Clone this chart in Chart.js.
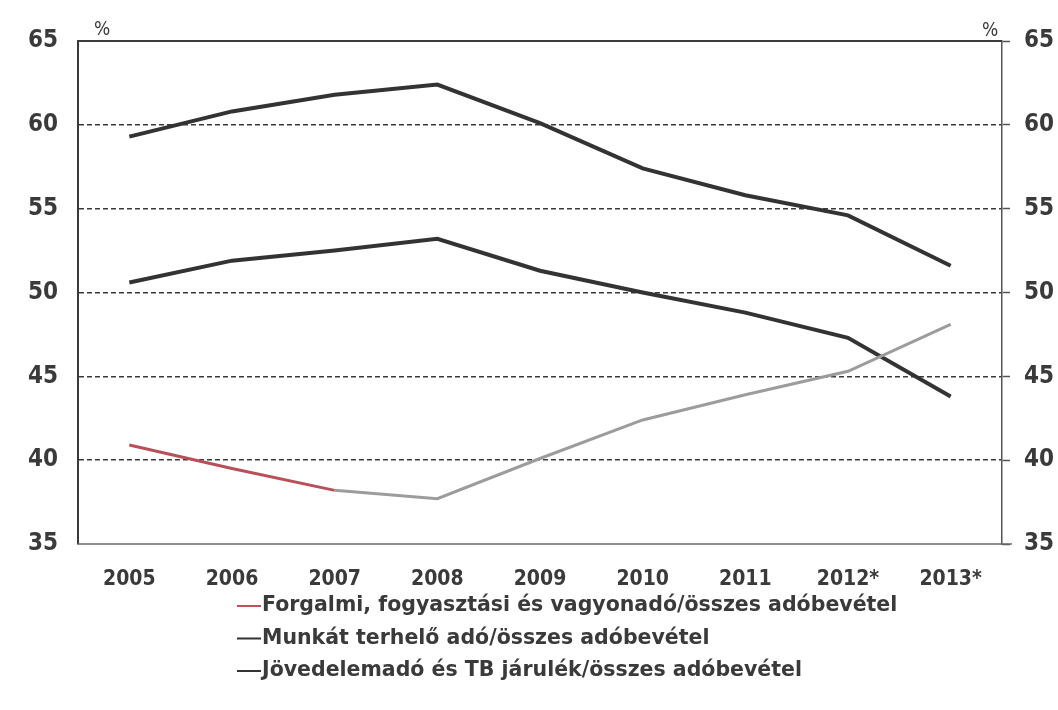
<!DOCTYPE html>
<html>
<head>
<meta charset="utf-8">
<script src="https://cdn.jsdelivr.net/npm/chart.js"></script>
<style>
  html, body { margin: 0; padding: 0; background: #fff; }
  #wrap { width: 1058px; height: 710px; position: relative; }
</style>
</head>
<body>
<div id="wrap"><canvas id="chart" width="1058" height="710"></canvas></div>
<script>
const years = ['2005', '2006', '2007', '2008', '2009', '2010', '2011', '2012*', '2013*'];
const forgalmi = [40.9, 39.5, 38.2, 37.7, 40.1, 42.4, 43.9, 45.3, 48.1];
const munkat = [59.3, 60.8, 61.8, 62.4, 60.1, 57.4, 55.8, 54.6, 51.6];
const jovedelem = [50.6, 51.9, 52.5, 53.2, 51.3, 50.0, 48.8, 47.3, 43.8];
const yTicks = [35, 40, 45, 50, 55, 60, 65];

const labelFont = { family: '"DejaVu Sans Condensed", "DejaVu Sans", sans-serif', size: 21, weight: 'bold' };
const textColor = '#3a3a3a';

// frame lines, % marks and the stacked legend
const extras = {
    id: 'extras',
    afterDraw(chart) {
        const { ctx, chartArea: a } = chart;
        ctx.save();
        ctx.strokeStyle = '#3c3c3c';
        ctx.lineWidth = 2;
        ctx.beginPath();
        ctx.moveTo(a.left, a.top);
        ctx.lineTo(a.right, a.top);
        ctx.stroke();
        ctx.strokeStyle = '#6a6a6a';
        ctx.lineWidth = 1.5;
        ctx.beginPath();
        ctx.moveTo(a.left, a.bottom);
        ctx.lineTo(a.right + 10, a.bottom);
        ctx.stroke();

        ctx.fillStyle = textColor;
        ctx.font = '19px "DejaVu Sans Condensed", sans-serif';
        ctx.textBaseline = 'bottom';
        ctx.textAlign = 'center';
        ctx.fillText('%', a.left + 24, a.top - 1);
        ctx.fillText('%', a.right - 12, a.top);

        ctx.font = 'bold 20.5px "DejaVu Sans", sans-serif';
        ctx.textAlign = 'left';
        ctx.textBaseline = 'middle';
        const x0 = 237;
        chart.data.datasets.forEach((ds, i) => {
            const y = 606 + i * 32.5;
            ctx.strokeStyle = ds.legendColor;
            ctx.lineWidth = 2;
            ctx.beginPath();
            ctx.moveTo(x0, y);
            ctx.lineTo(x0 + 24, y);
            ctx.stroke();
            ctx.fillStyle = textColor;
            ctx.fillText(ds.label, x0 + 25, y);
        });
        ctx.restore();
    }
};

new Chart(document.getElementById('chart'), {
    type: 'line',
    data: {
        labels: years,
        datasets: [
            {
                label: 'Forgalmi, fogyasztási és vagyonadó/összes adóbevétel',
                data: forgalmi,
                borderColor: '#9c9c9c',
                legendColor: '#c0505a',
                borderWidth: 3,
                segment: { borderColor: c => c.p0DataIndex < 2 ? '#b8505a' : undefined }
            },
            {
                label: 'Munkát terhelő adó/összes adóbevétel',
                data: munkat,
                borderColor: '#333333',
                legendColor: '#333333',
                borderWidth: 4
            },
            {
                label: 'Jövedelemadó és TB járulék/összes adóbevétel',
                data: jovedelem,
                borderColor: '#333333',
                legendColor: '#333333',
                borderWidth: 4
            }
        ]
    },
    options: {
        responsive: false,
        animation: false,
        layout: { padding: { top: 41, left: 0, right: 0, bottom: 0 } },
        elements: { point: { radius: 0 }, line: { tension: 0 } },
        plugins: { legend: { display: false }, tooltip: { enabled: false } },
        scales: {
            x: {
                offset: true,
                grid: { display: false },
                border: { display: false },
                ticks: { color: textColor, font: labelFont, padding: 15, maxRotation: 0 },
                afterFit: s => { s.height = 166; }
            },
            y: {
                position: 'left',
                min: 35, max: 65,
                afterBuildTicks: s => { s.ticks = yTicks.map(v => ({ value: v })); },
                ticks: { color: textColor, font: { ...labelFont, size: 24 }, padding: 20 },
                grid: {
                    color: c => (c.tick.value === 35 || c.tick.value === 65) ? 'rgba(0,0,0,0)' : '#3a3a3a',
                    lineWidth: 1.6,
                    drawTicks: false
                },
                border: { display: true, color: '#3a3a3a', width: 2, dash: [5, 3] },
                afterFit: s => { s.width = 78; }
            },
            y1: {
                position: 'right',
                min: 35, max: 65,
                afterBuildTicks: s => { s.ticks = yTicks.map(v => ({ value: v })); },
                ticks: { color: textColor, font: { ...labelFont, size: 24 }, padding: 14 },
                grid: { drawOnChartArea: false, tickLength: 8, tickColor: '#555', tickWidth: 1.5 },
                border: { display: true, color: '#555', width: 1.5 },
                afterFit: s => { s.width = 56; }
            }
        }
    },
    plugins: [extras]
});
</script>
</body>
</html>
